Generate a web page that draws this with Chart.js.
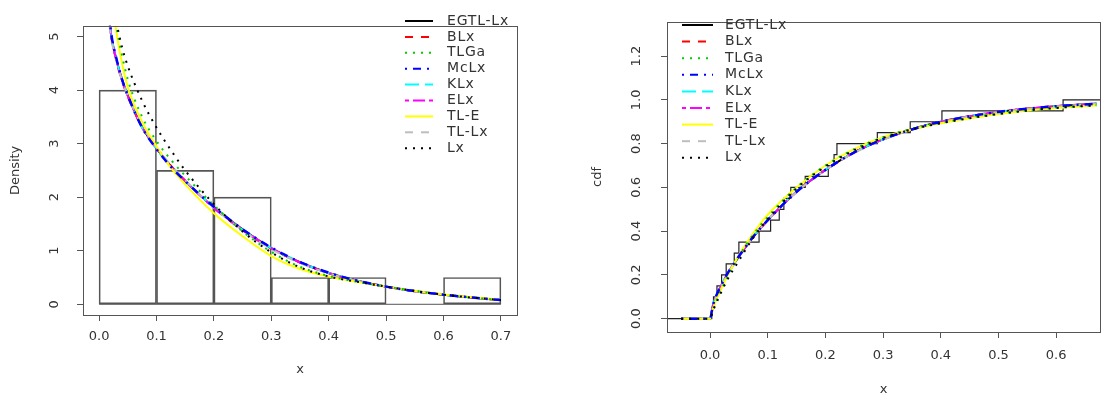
<!DOCTYPE html>
<html>
<head>
<meta charset="utf-8">
<script src="https://cdn.jsdelivr.net/npm/chart.js@4.4.1/dist/chart.umd.min.js"></script>
<style>
  html, body { margin:0; padding:0; background:#fff; }
  #wrap { position:relative; width:1107px; height:400px; }
  #dens { position:absolute; left:0; top:0; }
  #cdf { position:absolute; left:550px; top:0; }
</style>
</head>
<body>
<div id="wrap">
  <canvas id="dens" width="550" height="400"></canvas>
  <canvas id="cdf" width="557" height="400"></canvas>
</div>
<script>
// models, in legend order
const models = ['EGTL-Lx','BLx','TLGa','McLx','KLx','ELx','TL-E','TL-Lx','Lx']

// histogram (density scale)
const binEdges = [0, 0.1, 0.2, 0.3, 0.4, 0.5, 0.6, 0.7]
const histDensity = [4, 2.5, 2, 0.5, 0.5, 0, 0.5]

// fitted densities
const densX    = [0.01, 0.02, 0.03, 0.04, 0.05, 0.075, 0.1, 0.125, 0.15, 0.2, 0.25, 0.3, 0.35, 0.4, 0.45, 0.5, 0.55, 0.6, 0.65, 0.7]
const densEGTL = [6.3, 5.1, 4.58, 4.2, 3.9, 3.31, 2.91, 2.58, 2.3, 1.81, 1.40, 1.05, 0.785, 0.585, 0.44, 0.33, 0.245, 0.18, 0.125, 0.08]
const densBLx  = [6.2, 5.1, 4.55, 4.17, 3.88, 3.3, 2.92, 2.59, 2.31, 1.8, 1.38, 1.04, 0.78, 0.58, 0.435, 0.33, 0.245, 0.18, 0.125, 0.08]
const densTLGa = [7.2, 6.0, 5.2, 4.65, 4.2, 3.5, 3.05, 2.7, 2.4, 1.85, 1.36, 0.98, 0.7, 0.53, 0.42, 0.33, 0.25, 0.18, 0.125, 0.08]
const densMcLx = [6.4, 5.15, 4.6, 4.2, 3.9, 3.3, 2.9, 2.57, 2.3, 1.82, 1.40, 1.06, 0.79, 0.59, 0.44, 0.33, 0.245, 0.18, 0.125, 0.08]
const densKLx  = [6.35, 5.12, 4.58, 4.19, 3.9, 3.3, 2.9, 2.57, 2.3, 1.81, 1.39, 1.05, 0.785, 0.585, 0.44, 0.33, 0.245, 0.18, 0.125, 0.08]
const densELx  = [6.3, 5.1, 4.57, 4.18, 3.89, 3.31, 2.91, 2.58, 2.3, 1.8, 1.39, 1.05, 0.78, 0.58, 0.44, 0.33, 0.245, 0.18, 0.125, 0.08]
const densTLE  = [7.5, 6.0, 5.1, 4.5, 4.05, 3.4, 2.95, 2.55, 2.24, 1.7, 1.27, 0.9, 0.66, 0.52, 0.42, 0.33, 0.25, 0.185, 0.13, 0.085]
const densTLLx = [6.1, 5.05, 4.55, 4.18, 3.9, 3.33, 2.93, 2.6, 2.32, 1.8, 1.38, 1.03, 0.77, 0.575, 0.435, 0.33, 0.245, 0.18, 0.125, 0.08]
const densLx   = [6.6, 5.9, 5.28, 4.8, 4.45, 3.8, 3.3, 2.88, 2.5, 1.87, 1.36, 0.97, 0.69, 0.52, 0.42, 0.33, 0.25, 0.18, 0.125, 0.08]

// fitted cdfs
const cdfX    = [-0.05, 0, 0.005, 0.01, 0.02, 0.03, 0.05, 0.075, 0.1, 0.15, 0.2, 0.25, 0.3, 0.35, 0.4, 0.45, 0.5, 0.55, 0.6, 0.67]
const cdfEGTL = [0, 0, 0.06, 0.098, 0.153, 0.203, 0.284, 0.374, 0.45, 0.58, 0.68, 0.76, 0.82, 0.866, 0.9, 0.925, 0.945, 0.96, 0.971, 0.982]
const cdfBLx  = [0, 0, 0.058, 0.096, 0.152, 0.202, 0.283, 0.373, 0.45, 0.58, 0.68, 0.76, 0.82, 0.865, 0.9, 0.926, 0.946, 0.961, 0.972, 0.983]
const cdfTLGa = [0, 0, 0.04, 0.075, 0.135, 0.19, 0.285, 0.385, 0.465, 0.6, 0.7, 0.775, 0.83, 0.868, 0.895, 0.918, 0.937, 0.952, 0.964, 0.976]
const cdfMcLx = [0, 0, 0.06, 0.1, 0.155, 0.205, 0.285, 0.375, 0.45, 0.58, 0.68, 0.76, 0.82, 0.865, 0.9, 0.925, 0.945, 0.96, 0.971, 0.982]
const cdfKLx  = [0, 0, 0.06, 0.1, 0.155, 0.204, 0.285, 0.375, 0.451, 0.58, 0.681, 0.76, 0.82, 0.865, 0.9, 0.925, 0.945, 0.96, 0.971, 0.982]
const cdfELx  = [0, 0, 0.059, 0.099, 0.154, 0.204, 0.284, 0.374, 0.45, 0.579, 0.68, 0.759, 0.82, 0.865, 0.899, 0.925, 0.945, 0.96, 0.971, 0.982]
const cdfTLE  = [0, 0, 0.045, 0.08, 0.14, 0.195, 0.29, 0.39, 0.475, 0.6, 0.7, 0.775, 0.83, 0.865, 0.893, 0.916, 0.935, 0.951, 0.963, 0.975]
const cdfTLLx = [0, 0, 0.055, 0.094, 0.15, 0.2, 0.282, 0.373, 0.45, 0.579, 0.679, 0.758, 0.818, 0.863, 0.898, 0.924, 0.944, 0.959, 0.97, 0.98]
const cdfLx   = [0, 0, 0.035, 0.066, 0.124, 0.178, 0.265, 0.37, 0.455, 0.595, 0.695, 0.77, 0.826, 0.865, 0.893, 0.916, 0.935, 0.951, 0.963, 0.975]

// empirical cdf of the sample
const ecdfX = [0.003, 0.006, 0.012, 0.02, 0.028, 0.042, 0.05, 0.085, 0.105, 0.12, 0.128, 0.14, 0.165, 0.205, 0.215, 0.22, 0.29, 0.347, 0.402, 0.612]
const ecdfY = [0.05, 0.1, 0.15, 0.2, 0.25, 0.3, 0.35, 0.4, 0.45, 0.5, 0.55, 0.6, 0.65, 0.7, 0.75, 0.8, 0.85, 0.9, 0.95, 1.0]

// tick labels
const densXTicks = [0, 0.1, 0.2, 0.3, 0.4, 0.5, 0.6, 0.7]
const densYTicks = [0, 1, 2, 3, 4, 5]
const cdfXTicks = [0, 0.1, 0.2, 0.3, 0.4, 0.5, 0.6]
const cdfYTicks = [0, 0.2, 0.4, 0.6, 0.8, 1.0, 1.2]

// R style: col 1..8 and lty 1..6
const colors = ['#000000','#ff0000','#00cd00','#0000ff','#00ffff','#ff00ff','#ffff00','#bebebe','#000000']
const dashes = [[], [8,8], [2,6], [2,6,8,6], [14,6], [4,4,12,4], [], [8,8], [2,6]]
const widths = [2, 2, 2, 2.5, 2, 2, 2, 2, 2]
// drawing order (lower = on top); the blue one shows over the near-identical fits
const layers = [9, 8, 2, 1.5, 6, 5, 3, 4, 1]
const FONT = 'DejaVu Sans'
const INK = '#333'

function curves(xs, series){
    return models.map((name,i)=>({
        type:'line',
        label:name,
        data:xs.map((x,j)=>({x:x, y:series[i][j]})),
        borderColor:colors[i],
        borderDash:dashes[i],
        borderWidth:widths[i],
        pointRadius:0,
        fill:false,
        cubicInterpolationMode:'monotone',
        order:layers[i],
        inLegend:true
    }))
}

// box round the plot region
const rBox = {
    id:'rBox',
    afterDatasetsDraw(chart){
        const a = chart.chartArea, c = chart.ctx
        c.save()
        c.strokeStyle = '#555'
        c.lineWidth = 1
        c.strokeRect(Math.round(a.left)+0.5, Math.round(a.top)+0.5, Math.round(a.right-a.left), Math.round(a.bottom-a.top))
        c.restore()
    }
}

// legend drawn inside the plot like R's legend()
const rLegend = {
    id:'rLegend',
    afterDraw(chart, args, o){
        const c = chart.ctx
        c.save()
        c.font = '14px "' + FONT + '"'
        c.textBaseline = 'middle'
        if ('letterSpacing' in c) c.letterSpacing = '0.8px'
        let k = 0
        chart.data.datasets.forEach(ds=>{
            if (!ds.inLegend) return
            const y = o.y0 + k*o.dy
            c.beginPath()
            c.strokeStyle = ds.borderColor
            c.lineWidth = 2
            c.setLineDash(ds.borderDash)
            c.moveTo(o.x0, y)
            c.lineTo(o.x1, y)
            c.stroke()
            c.setLineDash([])
            c.fillStyle = INK
            c.fillText(ds.label, o.tx, y)
            k++
        })
        c.restore()
    }
}

function axis(min, max, ticks, title, fmt){
    return {
        type:'linear', min:min, max:max, offset:false,
        afterBuildTicks:s=>{ s.ticks = ticks.map(v=>({value:v})) },
        grid:{drawOnChartArea:false, drawTicks:true, tickLength:6, color:'#555', offset:false},
        border:{display:false},
        ticks:{callback:fmt, color:INK, autoSkip:false, font:{family:FONT, size:13}},
        title:{display:true, text:title, color:INK, font:{family:FONT, size:13}}
    }
}

// LEFT: histogram + densities

const densSeries = [densEGTL, densBLx, densTLGa, densMcLx, densKLx, densELx, densTLE, densTLLx, densLx]
const densSets = curves(densX, densSeries)
densSets.push({
    type:'bar',
    label:'hist',
    data:histDensity.map((d,i)=>({x:(binEdges[i]+binEdges[i+1])/2, y:d})),
    backgroundColor:'rgba(0,0,0,0)',
    borderColor:'#555',
    borderWidth:1,
    borderSkipped:false,
    barPercentage:1,
    categoryPercentage:1,
    order:100
})
densSets.push({
    type:'line',
    label:'base',
    data:[{x:binEdges[0], y:0}, {x:binEdges[binEdges.length-1], y:0}],
    borderColor:'#555',
    borderWidth:1,
    pointRadius:0,
    order:99
})

const xl = axis(-0.028, 0.728, densXTicks, 'x', v=>v.toFixed(1))
xl.afterFit = s=>{ s.height = 85 }
xl.ticks.padding = 8
xl.ticks.maxRotation = 0
xl.title.padding = {top:0, bottom:23}

const yl = axis(-0.2, 5.2, densYTicks, 'Density', v=>String(v))
yl.afterFit = s=>{ s.width = 83 }
yl.ticks.minRotation = 90
yl.ticks.maxRotation = 90
yl.ticks.crossAlign = 'center'
yl.ticks.padding = 18
yl.title.padding = {top:8, bottom:0}

new Chart(document.getElementById('dens'), {
    type:'line',
    data:{datasets:densSets},
    options:{
        responsive:false,
        animation:false,
        devicePixelRatio:1,
        layout:{padding:{left:0, top:5, right:33, bottom:0}},
        scales:{x:xl, y:yl},
        plugins:{
            legend:{display:false},
            tooltip:{enabled:false},
            rLegend:{x0:405, x1:433, tx:447, y0:21, dy:15.9}
        }
    },
    plugins:[rBox, rLegend]
})

// RIGHT: empirical and fitted cdfs

const cdfSeries = [cdfEGTL, cdfBLx, cdfTLGa, cdfMcLx, cdfKLx, cdfELx, cdfTLE, cdfTLLx, cdfLx]
const cdfSets = curves(cdfX, cdfSeries)
const cdfMin = -0.0746, cdfMax = 0.676
cdfSets.push({
    type:'line',
    label:'ecdf',
    data:[{x:cdfMin-0.05, y:0}].concat(ecdfX.map((x,i)=>({x:x, y:ecdfY[i]})), [{x:cdfMax+0.05, y:1}]),
    stepped:true,
    borderColor:'#222',
    borderWidth:1.2,
    pointRadius:0,
    order:100
})

const xr = axis(cdfMin, cdfMax, cdfXTicks, 'x', v=>v.toFixed(1))
xr.afterFit = s=>{ s.height = 68 }
xr.ticks.padding = 10
xr.ticks.maxRotation = 0
xr.title.padding = {top:0, bottom:3}

const yr = axis(-0.061, 1.357, cdfYTicks, 'cdf', v=>v.toFixed(1))
yr.afterFit = s=>{ s.width = 117 }
yr.ticks.minRotation = 90
yr.ticks.maxRotation = 90
yr.ticks.crossAlign = 'center'
yr.ticks.padding = 14
yr.title.padding = {top:40, bottom:0}

new Chart(document.getElementById('cdf'), {
    type:'line',
    data:{datasets:cdfSets},
    options:{
        responsive:false,
        animation:false,
        devicePixelRatio:1,
        layout:{padding:{left:0, top:7, right:7, bottom:0}},
        scales:{x:xr, y:yr},
        plugins:{
            legend:{display:false},
            tooltip:{enabled:false},
            rLegend:{x0:132, x1:163, tx:175, y0:25, dy:16.6}
        }
    },
    plugins:[rBox, rLegend]
})
</script>
</body>
</html>
